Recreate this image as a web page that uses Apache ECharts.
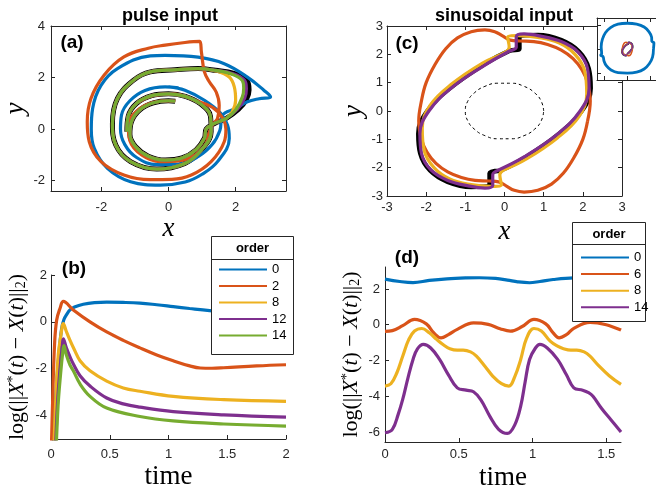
<!DOCTYPE html>
<html>
<head>
<meta charset="utf-8">
<script src="https://cdn.jsdelivr.net/npm/echarts@6/dist/echarts.min.js"></script>
<style>
html,body{margin:0;padding:0;background:#fff}
#main{width:656px;height:491px}
</style>
</head>
<body>
<div id="main"></div>
<script>
// ticks
var aXTicks = [-2, 0, 2];
var aYTicks = [-2, 0, 2, 4];
var bXTicks = [0, 0.5, 1, 1.5, 2];
var bYTicks = [-4, -2, 0, 2];
var cTicks = [-3, -2, -1, 0, 1, 2, 3];
var dXTicks = [0, 0.5, 1, 1.5];
var dYTicks = [-6, -4, -2, 0, 2];
var insetTicks = [-10, 0, 10];

// (a) pulse input, phase plane (x, y)
var aInner = [[0.2,1.08],[0.0,1.1],[-0.45,1.02],[-0.85,0.75],[-1.1,0.3],[-1.15,-0.2],[-0.98,-0.68],[-0.6,-1.05],[-0.1,-1.2],[0.4,-1.12],[0.82,-0.8],[1.07,-0.35],[1.12,0.0],[1.37,0.22],[1.71,0.41]];
var aTipBlack = [[2.08,0.76],[2.32,1.15],[2.4,1.52],[2.33,1.9],[1.95,2.16],[1.4,2.28]];
var aTipPurple = [[2.05,0.76],[2.27,1.2],[2.32,1.57],[2.26,1.9],[1.9,2.16],[1.4,2.28]];
var aTipGreen = [[2.0,0.74],[2.2,1.25],[2.24,1.6],[2.2,1.88],[1.86,2.15],[1.4,2.28]];
var aTipYellow = [[1.9,0.67],[2.0,1.12],[1.96,1.64],[1.81,2.02],[1.45,2.25]];
var aOuter = [[0.88,2.35],[0.19,2.3],[-0.54,2.22],[-1.04,1.9],[-1.52,1.19],[-1.67,0.22],[-1.57,-0.62],[-1.13,-1.26],[-0.35,-1.55],[0.49,-1.33],[0.98,-0.81],[1.27,-0.1],[1.25,0.5],[0.95,0.98],[0.5,1.27],[0.0,1.37],[-0.5,1.3],[-0.95,1.0],[-1.2,0.5],[-1.24,-0.1]];
var aBlue = [[0.3,1.6],[-0.1,1.64],[-0.7,1.5],[-1.15,1.1],[-1.4,0.55],[-1.43,0.0],[-1.3,-0.6],[-0.95,-1.1],[-0.35,-1.38],[0.3,-1.36],[0.88,-1.07],[1.3,-0.6],[1.53,-0.05],[1.61,0.54],[2.0,0.8],[2.35,1.06],[2.7,1.18],[3.04,1.25],[3.04,1.25],[2.84,1.51],[2.35,2.02],[1.66,2.54],[0.88,2.79],[-0.1,2.86],[-0.54,2.84],[-1.52,2.35],[-2.01,1.7],[-2.26,0.8],[-2.3,0.0],[-2.21,-0.75],[-1.82,-1.52],[-1.13,-2.04],[-0.25,-2.17],[0.5,-2.05],[1.0,-1.75],[1.46,-1.26],[1.81,-0.36],[1.76,0.15],[1.55,0.62],[1.07,1.12],[0.49,1.51],[0.0,1.64]];
var aRed = [[0.2,1.08],[0.0,1.1],[-0.5,1.02],[-0.95,0.7],[-1.2,0.15],[-1.15,-0.45],[-0.8,-1.0],[-0.25,-1.26],[0.35,-1.22],[0.8,-1.0],[1.1,-0.6],[1.22,-0.1],[1.33,0.2],[1.46,0.41],[1.51,0.93],[1.42,1.44],[1.22,1.83],[1.07,2.22],[0.98,2.99],[0.93,3.4],[0.93,3.4],[0.49,3.36],[-0.1,3.26],[-0.6,3.14],[-1.33,2.8],[-1.92,2.09],[-2.31,1.19],[-2.42,0.28],[-2.36,-0.49],[-2.01,-1.26],[-1.33,-1.78],[-0.54,-1.96],[0.1,-1.95],[0.68,-1.78],[1.27,-1.26],[1.66,-0.49],[1.71,0.0],[1.6,0.45],[1.3,0.85],[0.78,1.12],[0.19,1.36],[-0.4,1.32],[-0.9,1.05]];

// (c) sinusoidal input, phase plane
var cBlack = [[-0.11,-2.11],[0.53,-1.64],[1.38,-0.82],[1.97,0.0],[2.2,0.8],[2.15,1.5],[1.9,2.1],[1.45,2.5],[0.85,2.68],[0.38,2.58],[0.38,2.58],[0.38,2.2],[0.38,2.2],[0.12,2.12],[-0.53,1.64],[-1.38,0.82],[-1.97,0.0],[-2.2,-0.8],[-2.15,-1.5],[-1.9,-2.1],[-1.45,-2.5],[-0.85,-2.68],[-0.38,-2.58],[-0.38,-2.58],[-0.38,-2.2],[-0.38,-2.2],[-0.11,-2.11]];
var cPurple = [[-0.15,-2.08],[0.5,-1.62],[1.35,-0.82],[1.93,0.0],[2.16,0.8],[2.12,1.5],[1.88,2.08],[1.45,2.45],[0.9,2.65],[0.5,2.72],[0.3,2.62],[0.3,2.62],[0.3,2.25],[0.3,2.25],[0.1,2.1],[-0.5,1.62],[-1.35,0.82],[-1.93,0.0],[-2.16,-0.8],[-2.12,-1.5],[-1.88,-2.08],[-1.45,-2.45],[-0.9,-2.65],[-0.5,-2.72],[-0.3,-2.62],[-0.3,-2.62],[-0.3,-2.25],[-0.3,-2.25],[-0.15,-2.08]];
var cYellow = [[-0.02,-2.08],[0.55,-1.7],[1.35,-0.95],[1.9,-0.2],[2.1,0.6],[2.05,1.4],[1.8,2.0],[1.4,2.4],[0.85,2.6],[0.35,2.66],[0.08,2.6],[0.08,2.6],[0.12,2.25],[0.12,2.25],[0.02,2.08],[-0.55,1.7],[-1.35,0.95],[-1.9,0.2],[-2.1,-0.6],[-2.05,-1.4],[-1.8,-2.0],[-1.4,-2.4],[-0.85,-2.6],[-0.35,-2.66],[-0.08,-2.6],[-0.08,-2.6],[-0.12,-2.25],[-0.12,-2.25],[-0.02,-2.08]];
var cRed = [[2.12,-0.36],[2.19,0.35],[2.12,1.0],[1.98,1.45],[1.75,1.85],[1.45,2.15],[1.1,2.35],[0.75,2.45],[0.4,2.47],[0.15,2.5],[-0.05,2.65],[-0.25,2.8],[-0.5,2.86],[-0.85,2.8],[-1.2,2.58],[-1.5,2.2],[-1.77,1.65],[-2.0,1.0],[-2.12,0.36],[-2.19,-0.35],[-2.12,-1.0],[-1.98,-1.45],[-1.75,-1.85],[-1.45,-2.15],[-1.1,-2.35],[-0.75,-2.45],[-0.4,-2.47],[-0.15,-2.5],[0.05,-2.65],[0.25,-2.8],[0.5,-2.86],[0.85,-2.8],[1.2,-2.58],[1.5,-2.2],[1.77,-1.65],[2.0,-1.0],[2.12,-0.36]];
var cCircle = [[1,0],[0.94,0.34],[0.77,0.64],[0.5,0.87],[0.17,0.98],[-0.17,0.98],[-0.5,0.87],[-0.77,0.64],[-0.94,0.34],[-1,0],[-0.94,-0.34],[-0.77,-0.64],[-0.5,-0.87],[-0.17,-0.98],[0.17,-0.98],[0.5,-0.87],[0.77,-0.64],[0.94,-0.34],[1,0]];
var insetBlue = [[11.2,0],[11.4,2.6],[10.5,3.2],[10.4,5.0],[9.3,7.2],[7.2,9.2],[4.0,10.4],[0,10.8],[-4,10.4],[-7.2,9.0],[-9.4,6.8],[-10.7,4.0],[-11.2,1.0],[-11.0,-2.0],[-11.4,-2.6],[-10.4,-3.2],[-10.0,-5.0],[-9.0,-7.0],[-7.0,-8.8],[-4.0,-9.9],[0,-10.1],[4.0,-9.7],[7.2,-8.4],[9.4,-6.2],[10.8,-3.4],[11.2,0]];

// (b) pulse input, log error vs time
var b0 = [[0.01,-6],[0.04,-3.2],[0.065,-1.5],[0.09,-0.3],[0.11,0.1],[0.135,0.33],[0.162,0.51],[0.2,0.63],[0.275,0.75],[0.37,0.82],[0.474,0.84],[0.615,0.83],[0.757,0.8],[0.9,0.73],[1.04,0.65],[1.18,0.57],[1.35,0.48],[1.5,0.42],[1.75,0.35],[2.0,0.3]];
var b2 = [[0.0,-6],[0.015,-3.2],[0.03,-1.0],[0.048,0.07],[0.077,0.58],[0.105,0.87],[0.105,0.87],[0.19,0.51],[0.332,0.0],[0.474,-0.43],[0.615,-0.79],[0.757,-1.11],[0.9,-1.41],[1.04,-1.66],[1.18,-1.88],[1.27,-1.97],[1.37,-1.98],[1.47,-1.96],[1.75,-1.88],[2.0,-1.83]];
var b8 = [[0.02,-6],[0.04,-3.4],[0.062,-1.4],[0.085,-0.55],[0.105,-0.07],[0.105,-0.07],[0.13,-0.4],[0.162,-0.79],[0.2,-1.2],[0.247,-1.66],[0.332,-2.09],[0.474,-2.53],[0.615,-2.82],[0.757,-2.96],[1.04,-3.18],[1.47,-3.32],[2.0,-3.39]];
var b12 = [[0.035,-6],[0.055,-3.5],[0.077,-2.0],[0.095,-1.1],[0.105,-0.72],[0.105,-0.72],[0.13,-1.1],[0.162,-1.5],[0.19,-1.8],[0.247,-2.3],[0.332,-2.74],[0.474,-3.25],[0.615,-3.5],[0.757,-3.64],[1.04,-3.83],[1.47,-3.97],[2.0,-4.07]];
var b14 = [[0.04,-6],[0.06,-3.6],[0.082,-2.2],[0.1,-1.3],[0.11,-1.01],[0.11,-1.01],[0.13,-1.4],[0.162,-1.85],[0.19,-2.09],[0.247,-2.65],[0.332,-3.18],[0.474,-3.68],[0.757,-4.04],[1.04,-4.23],[1.47,-4.36],[2.0,-4.45]];

// (d) sinusoidal input, log error vs time
var d0 = [[0,2.55],[0.1,2.42],[0.19,2.36],[0.3,2.48],[0.42,2.57],[0.55,2.62],[0.64,2.63],[0.75,2.59],[0.83,2.5],[0.9,2.4],[0.98,2.35],[1.05,2.42],[1.14,2.53],[1.28,2.62],[1.4,2.63],[1.5,2.6],[1.6,2.55]];
var d6 = [[0,-0.37],[0.05,-0.33],[0.12,-0.05],[0.2,0.3],[0.28,0.05],[0.33,-0.45],[0.38,-0.73],[0.43,-0.55],[0.49,-0.26],[0.6,0.1],[0.7,0.02],[0.78,-0.22],[0.85,-0.36],[0.93,-0.1],[1.01,0.3],[1.09,0.05],[1.14,-0.45],[1.18,-0.73],[1.23,-0.55],[1.28,-0.2],[1.39,0.13],[1.5,0.0],[1.6,-0.3]];
var d8 = [[0,-3.43],[0.04,-3.3],[0.08,-2.7],[0.12,-1.76],[0.16,-0.85],[0.2,-0.35],[0.25,-0.21],[0.3,-0.45],[0.35,-0.82],[0.4,-1.15],[0.44,-1.34],[0.49,-1.42],[0.53,-1.42],[0.58,-1.52],[0.62,-1.76],[0.68,-2.35],[0.73,-2.87],[0.79,-3.3],[0.84,-3.43],[0.88,-2.9],[0.92,-1.94],[0.96,-0.75],[1.01,-0.21],[1.06,-0.35],[1.12,-0.92],[1.17,-1.2],[1.21,-1.34],[1.26,-1.42],[1.3,-1.42],[1.35,-1.52],[1.39,-1.76],[1.45,-2.3],[1.52,-2.85],[1.6,-3.34]];
var d14 = [[0,-6.04],[0.05,-5.85],[0.09,-5.0],[0.12,-4.18],[0.155,-3.0],[0.19,-1.94],[0.22,-1.35],[0.26,-1.1],[0.31,-1.3],[0.37,-1.94],[0.43,-2.8],[0.49,-3.53],[0.55,-3.66],[0.6,-3.75],[0.65,-4.2],[0.71,-5.11],[0.77,-5.85],[0.83,-6.08],[0.88,-5.6],[0.92,-4.55],[0.95,-3.2],[0.98,-1.94],[1.02,-1.3],[1.05,-1.1],[1.1,-1.3],[1.17,-1.94],[1.23,-2.8],[1.28,-3.53],[1.34,-3.66],[1.38,-3.8],[1.41,-4.0],[1.47,-4.7],[1.53,-5.3],[1.6,-6.0]];

var AX = '#262626';
var SANS = 'Liberation Sans, Arial, sans-serif';
var SERIF = 'Liberation Serif, Times New Roman, serif';
var BLUE = '#0072BD', RED = '#D95319', YEL = '#EDB120', PUR = '#7E2F8E', GRN = '#77AC30';
var LW = 3.2;

function valAxis(grid, pos, min, max, ticks, label, margin, z) {
    return {
        type: 'value', gridIndex: grid, position: pos, min: min, max: max, z: z || 0,
        axisLine: {show: true, onZero: false, lineStyle: {color: AX, width: 1}},
        axisTick: {show: true, inside: true, length: 4, customValues: ticks, lineStyle: {color: AX, width: 1}},
        axisLabel: {show: label, customValues: ticks, margin: margin || 6, color: AX, fontSize: 13, fontFamily: SANS},
        splitLine: {show: false}
    };
}
function withName(ax, name, gap, rot, style) {
    ax.name = name;
    ax.nameLocation = 'middle';
    ax.nameGap = gap;
    ax.nameRotate = rot;
    ax.nameTextStyle = style;
    return ax;
}
function ln(name, idx, data, color, width, z, smooth) {
    return {
        type: 'line', name: name, xAxisIndex: idx, yAxisIndex: idx, data: data,
        symbol: 'none', showSymbol: false, smooth: smooth == null ? 0.4 : smooth,
        lineStyle: {color: color, width: width}, itemStyle: {color: color},
        z: z || 2, silent: true, clip: true
    };
}

var italicName = {fontFamily: SERIF, fontStyle: 'italic', fontSize: 27, color: '#000'};
var timeName = {fontFamily: SERIF, fontSize: 27, color: '#000'};
var logName = '{n|log(||}{i|X}{s|*}{n|(}{i|t}{n|) − }{i|X}{n|(}{i|t}{n|)||}{b|2}{n|)}';
var logStyle = {
    fontFamily: SERIF, fontSize: 22, color: '#000',
    rich: {
        n: {fontFamily: SERIF, fontSize: 22, color: '#000'},
        i: {fontFamily: SERIF, fontSize: 22, fontStyle: 'italic', color: '#000'},
        s: {fontFamily: SERIF, fontSize: 14, color: '#000', verticalAlign: 'top'},
        b: {fontFamily: SERIF, fontSize: 14, color: '#000', verticalAlign: 'bottom'}
    }
};
var hiddenSymbol = {color: 'rgba(0,0,0,0)', borderWidth: 0, opacity: 0};

var chart = echarts.init(document.getElementById('main'));
chart.setOption({
    animation: false,
    backgroundColor: '#fff',
    grid: [
        {left: 51, top: 26, width: 235, height: 165, outerBoundsMode: 'none', containLabel: false},
        {left: 51, top: 275, width: 235, height: 164, outerBoundsMode: 'none', containLabel: false},
        {left: 387, top: 26, width: 235, height: 170, outerBoundsMode: 'none', containLabel: false},
        {left: 385, top: 267, width: 236, height: 175, outerBoundsMode: 'none', containLabel: false},
        {left: 597, top: 18, width: 70, height: 62, outerBoundsMode: 'none', containLabel: false,
            show: true, backgroundColor: '#fff', borderWidth: 0, z: 5}
    ],
    xAxis: [
        withName(valAxis(0, 'bottom', -3.5, 3.5, aXTicks, true, 10), 'x', 24, 0, italicName),
        valAxis(0, 'top', -3.5, 3.5, aXTicks, false),
        withName(valAxis(1, 'bottom', 0, 2, bXTicks, true, 9), 'time', 24, 0, timeName),
        withName(valAxis(2, 'bottom', -3, 3, cTicks, true, 5), 'x', 22, 0, italicName),
        valAxis(2, 'top', -3, 3, cTicks, false),
        withName(valAxis(3, 'bottom', 0, 1.6, dXTicks, true, 6), 'time', 22, 0, timeName),
        valAxis(4, 'bottom', -13, 17, insetTicks, false, 6, 6),
        valAxis(4, 'top', -13, 17, insetTicks, false, 6, 6)
    ],
    yAxis: [
        withName(valAxis(0, 'left', -2.4, 4, aYTicks, true, 6), 'y', 21, 90, italicName),
        valAxis(0, 'right', -2.4, 4, aYTicks, false),
        withName(valAxis(1, 'left', -5, 2, bYTicks, true, 4), logName, 23, 90, logStyle),
        withName(valAxis(2, 'left', -3, 3, cTicks, true, 4), 'y', 19, 90, italicName),
        valAxis(2, 'right', -3, 3, cTicks, false),
        withName(valAxis(3, 'left', -6.56, 3.23, dYTicks, true, 5), logName, 23, 90, logStyle),
        valAxis(4, 'left', -13, 13, insetTicks, false, 6, 6),
        valAxis(4, 'right', -13, 13, insetTicks, false, 6, 6)
    ],
    legend: [
        {data: ['b0', 'b2', 'b8', 'b12', 'b14'], orient: 'vertical', left: 218, top: 263, padding: 0,
            itemWidth: 48, itemHeight: 14, itemGap: 3.5, selectedMode: false, z: 20,
            itemStyle: hiddenSymbol,
            formatter: function (n) { return n.slice(1); },
            textStyle: {fontSize: 13, fontFamily: SANS, color: '#000'}},
        {data: ['d0', 'd6', 'd8', 'd14'], orient: 'vertical', left: 580, top: 251, padding: 0,
            itemWidth: 48, itemHeight: 14, itemGap: 3.6, selectedMode: false, z: 20,
            itemStyle: hiddenSymbol,
            formatter: function (n) { return n.slice(1); },
            textStyle: {fontSize: 13, fontFamily: SANS, color: '#000'}}
    ],
    graphic: [
        {type: 'text', x: 170, y: 16, z: 10, style: {text: 'pulse input', font: 'bold 18px ' + SANS, fill: '#000', textAlign: 'center', textVerticalAlign: 'middle', align: 'center', verticalAlign: 'middle'}},
        {type: 'text', x: 504, y: 16, z: 10, style: {text: 'sinusoidal input', font: 'bold 18px ' + SANS, fill: '#000', textAlign: 'center', textVerticalAlign: 'middle', align: 'center', verticalAlign: 'middle'}},
        {type: 'text', x: 72, y: 43, z: 10, style: {text: '(a)', font: 'bold 19px ' + SANS, fill: '#000', textAlign: 'center', textVerticalAlign: 'middle', align: 'center', verticalAlign: 'middle'}},
        {type: 'text', x: 74, y: 269, z: 10, style: {text: '(b)', font: 'bold 19px ' + SANS, fill: '#000', textAlign: 'center', textVerticalAlign: 'middle', align: 'center', verticalAlign: 'middle'}},
        {type: 'text', x: 407, y: 44, z: 10, style: {text: '(c)', font: 'bold 19px ' + SANS, fill: '#000', textAlign: 'center', textVerticalAlign: 'middle', align: 'center', verticalAlign: 'middle'}},
        {type: 'text', x: 407, y: 258, z: 10, style: {text: '(d)', font: 'bold 19px ' + SANS, fill: '#000', textAlign: 'center', textVerticalAlign: 'middle', align: 'center', verticalAlign: 'middle'}},
        // legend boxes
        {type: 'rect', z: 10, shape: {x: 211.5, y: 236.5, width: 82, height: 118}, style: {fill: '#fff', stroke: AX, lineWidth: 1}},
        {type: 'line', z: 11, shape: {x1: 211.5, y1: 259.5, x2: 293.5, y2: 259.5}, style: {stroke: AX, lineWidth: 1}},
        {type: 'text', x: 252.5, y: 248, z: 11, style: {text: 'order', font: 'bold 13px ' + SANS, fill: '#000', textAlign: 'center', textVerticalAlign: 'middle', align: 'center', verticalAlign: 'middle'}},
        {type: 'rect', z: 10, shape: {x: 572.5, y: 222.5, width: 73, height: 99}, style: {fill: '#fff', stroke: AX, lineWidth: 1}},
        {type: 'line', z: 11, shape: {x1: 572.5, y1: 244.5, x2: 645.5, y2: 244.5}, style: {stroke: AX, lineWidth: 1}},
        {type: 'text', x: 609, y: 234, z: 11, style: {text: 'order', font: 'bold 13px ' + SANS, fill: '#000', textAlign: 'center', textVerticalAlign: 'middle', align: 'center', verticalAlign: 'middle'}}
    ],
    series: [
        // (a)
        ln('a_black', 0, aInner.concat(aTipBlack, aOuter), '#000', 5, 2),
        ln('a_blue', 0, aBlue, BLUE, LW, 3),
        ln('a_red', 0, aRed, RED, LW, 3),
        ln('a_yellow', 0, aInner.concat(aTipYellow, aOuter), YEL, LW, 3),
        ln('a_purple', 0, aInner.concat(aTipPurple, aOuter), PUR, LW, 3),
        ln('a_green', 0, aInner.concat(aTipGreen, aOuter), GRN, LW, 3),
        // (b)
        ln('b0', 2, b0, BLUE, LW, 3),
        ln('b2', 2, b2, RED, LW, 3),
        ln('b8', 2, b8, YEL, LW, 3),
        ln('b12', 2, b12, PUR, LW, 3),
        ln('b14', 2, b14, GRN, LW, 3),
        // (c)
        {type: 'line', name: 'c_circle', xAxisIndex: 3, yAxisIndex: 3, data: cCircle, symbol: 'none', smooth: 0.5,
            lineStyle: {color: '#000', width: 1, type: [3, 3]}, z: 2, silent: true},
        ln('c_black', 3, cBlack, '#000', 4.6, 2),
        ln('c_red', 3, cRed, RED, LW, 3),
        ln('c_yellow', 3, cYellow, YEL, LW, 3),
        ln('c_purple', 3, cPurple, PUR, LW, 3),
        // (d)
        ln('d0', 5, d0, BLUE, LW, 3),
        ln('d6', 5, d6, RED, LW, 3),
        ln('d8', 5, d8, YEL, LW, 3),
        ln('d14', 5, d14, PUR, LW, 3),
        // inset
        ln('i_blue', 6, insetBlue, BLUE, 2.8, 7),
        ln('i_black', 6, cBlack, '#000', 2, 7),
        ln('i_red', 6, cRed, RED, 1.5, 7),
        ln('i_yellow', 6, cYellow, YEL, 1.5, 7),
        ln('i_purple', 6, cPurple, PUR, 1.5, 7)
    ]
});
</script>
</body>
</html>
